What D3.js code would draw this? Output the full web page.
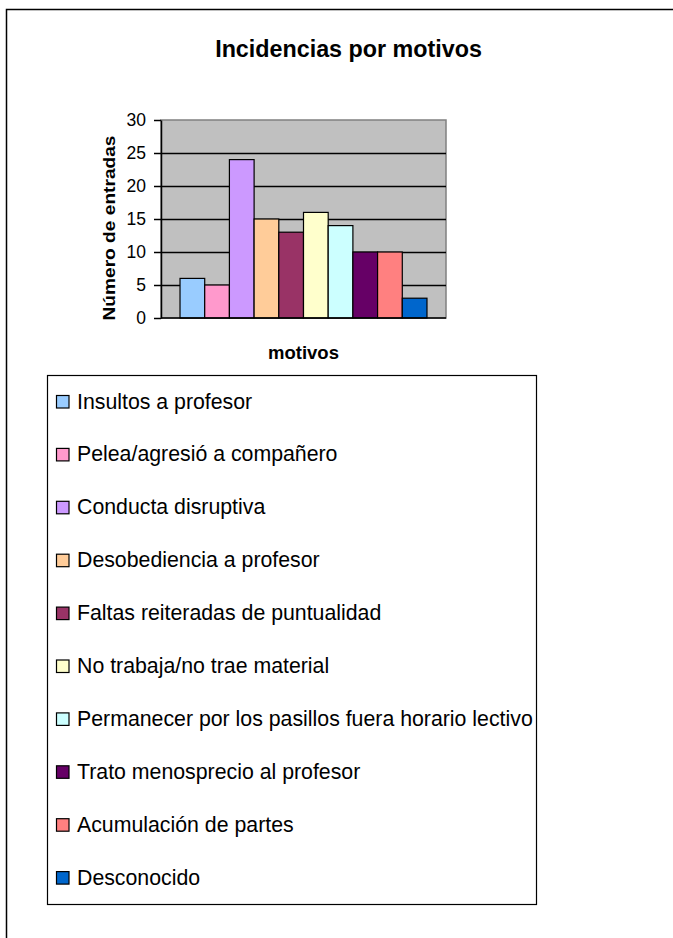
<!DOCTYPE html>
<html>
<head>
<meta charset="utf-8">
<script src="https://cdn.jsdelivr.net/npm/d3@7"></script>
<style>
  body { margin: 0; background: #fff; }
  svg { display: block; font-family: "Liberation Sans", Arial, sans-serif; }
</style>
</head>
<body>
<svg id="chart" width="673" height="938"></svg>
<script>
// chart data
var motivos = ["Insultos a profesor", "Pelea/agresió a compañero", "Conducta disruptiva",
    "Desobediencia a profesor", "Faltas reiteradas de puntualidad", "No trabaja/no trae material",
    "Permanecer por los pasillos fuera horario lectivo", "Trato menosprecio al profesor",
    "Acumulación de partes", "Desconocido"];
var entradas = [6, 5, 24, 15, 13, 16, 14, 10, 10, 3];
var colores = ["#99CCFF", "#FF99CC", "#CC99FF", "#FFCC99", "#993366", "#FFFFCC",
    "#CCFFFF", "#660066", "#FF8080", "#0066CC"];
var yTicks = [0, 5, 10, 15, 20, 25, 30];

function draw_chart() {
    var svg = d3.select("#chart"),
        plot = {"left": 161, "right": 446, "top": 120, "bottom": 318};

    // outer chart frame (runs off the right / bottom edge)
    svg.append("rect").attr("x", 6.5).attr("y", 9.5).attr("width", 720).attr("height", 1000)
        .attr("fill", "#fff").attr("stroke", "#000").attr("stroke-width", 1.5);

    svg.append("text").attr("x", 348.5).attr("y", 57).attr("text-anchor", "middle")
        .style("font-weight", "bold").style("font-size", "23.3px").text("Incidencias por motivos");

    var y = d3.scaleLinear().domain([0, 30]).range([plot.bottom, plot.top]);
    var x = d3.scaleBand().domain(motivos).range([plot.left, plot.right])
        .paddingInner(0).paddingOuter(0.77);

    // plot background
    svg.append("rect").attr("x", plot.left).attr("y", plot.top)
        .attr("width", plot.right - plot.left).attr("height", plot.bottom - plot.top)
        .attr("fill", "#C0C0C0").attr("stroke", "#808080").attr("stroke-width", 1.5);

    svg.append("g").selectAll("line")
        .data(yTicks.filter(d => d > 0 && d < 30))
        .enter().append("line")
        .attr("x1", plot.left).attr("x2", plot.right)
        .attr("y1", d => Math.round(y(d)) + 0.5).attr("y2", d => Math.round(y(d)) + 0.5)
        .attr("stroke", "#000").attr("stroke-width", 1.5);

    svg.append("g").selectAll("rect")
        .data(entradas)
        .enter().append("rect")
        .attr("x", (d, i) => x(motivos[i]))
        .attr("y", d => y(d))
        .attr("width", x.bandwidth())
        .attr("height", d => y(0) - y(d))
        .attr("fill", (d, i) => colores[i])
        .attr("stroke", "#000").attr("stroke-width", 1.2);

    // axes
    var yAxis = svg.append("g").attr("transform", "translate(" + [plot.left, 0] + ")")
        .call(d3.axisLeft(y).tickValues(yTicks).tickSize(7).tickPadding(8).tickSizeOuter(0));
    yAxis.select(".domain").attr("stroke", "#000").attr("stroke-width", 1.5);
    yAxis.selectAll(".tick line").attr("stroke", "#000").attr("stroke-width", 1.5);
    yAxis.selectAll(".tick text").style("font-size", "17.5px").attr("fill", "#000")
        .style("font-family", "'Liberation Sans', Arial, sans-serif");

    svg.append("line").attr("x1", plot.left).attr("x2", plot.right)
        .attr("y1", plot.bottom).attr("y2", plot.bottom)
        .attr("stroke", "#000").attr("stroke-width", 1.5);

    svg.append("text").attr("transform", "translate(115,228) rotate(-90)")
        .attr("text-anchor", "middle").style("font-weight", "bold").style("font-size", "17px")
        .attr("textLength", 185).attr("lengthAdjust", "spacingAndGlyphs")
        .text("Número de entradas");

    svg.append("text").attr("x", 303.5).attr("y", 359).attr("text-anchor", "middle")
        .style("font-weight", "bold").style("font-size", "18.5px").text("motivos");

    // legend
    var leg = {"left": 47, "top": 375, "right": 536, "bottom": 904, "first": 408, "step": 52.9};
    svg.append("rect").attr("x", leg.left + 0.5).attr("y", leg.top + 0.5)
        .attr("width", leg.right - leg.left).attr("height", leg.bottom - leg.top)
        .attr("fill", "#fff").attr("stroke", "#000").attr("stroke-width", 1.2);

    var items = svg.append("g").selectAll("g")
        .data(motivos)
        .enter().append("g")
        .attr("transform", (d, i) => "translate(" + [0, leg.first + i * leg.step] + ")");

    items.append("rect").attr("x", 56.5).attr("y", -12.5).attr("width", 12.5).attr("height", 12.5)
        .attr("fill", (d, i) => colores[i]).attr("stroke", "#000").attr("stroke-width", 1.2);

    items.append("text").attr("x", 77).attr("y", 0.5).style("font-size", "21.3px")
        .text(d => d);
}

draw_chart();
</script>
</body>
</html>
